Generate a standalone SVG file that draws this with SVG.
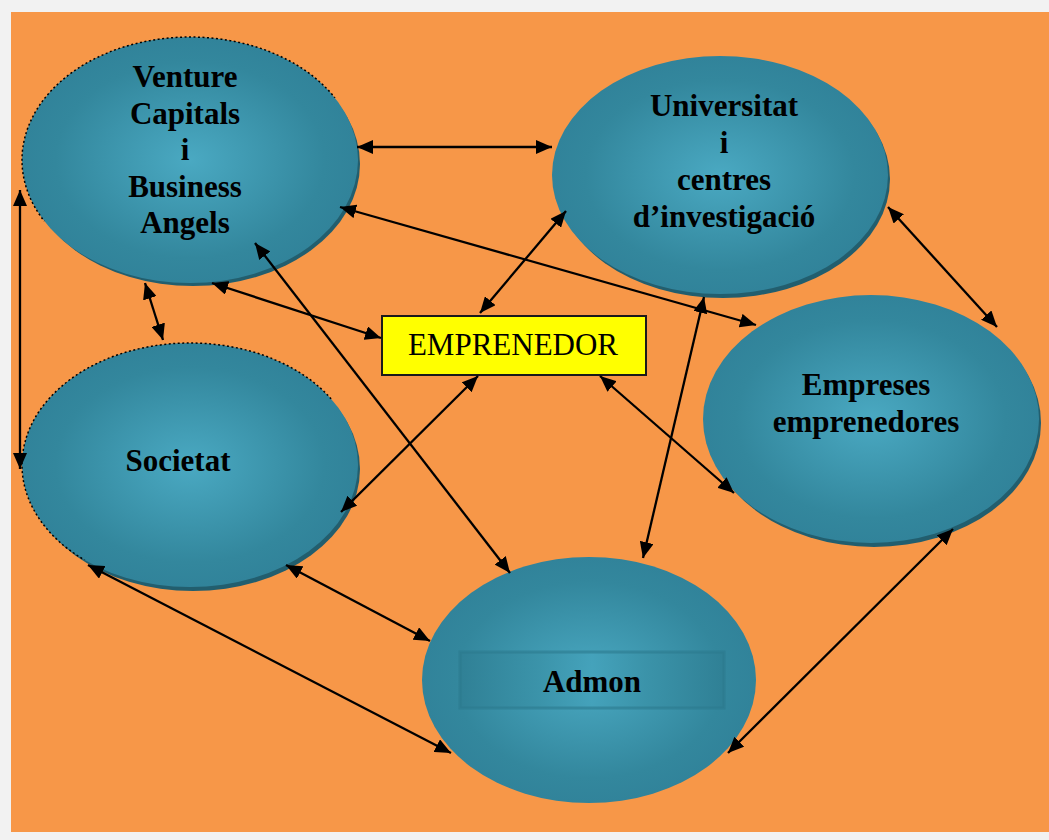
<svg xmlns="http://www.w3.org/2000/svg" width="1049" height="840" viewBox="0 0 1049 840">
  <defs>
    <radialGradient id="ball" cx="50%" cy="50%" r="50%">
      <stop offset="0" stop-color="#4aa9c2"/>
      <stop offset="0.8" stop-color="#33879d"/>
      <stop offset="1" stop-color="#31839a"/>
    </radialGradient>
    <linearGradient id="band" x1="0" y1="0" x2="1" y2="0">
      <stop offset="0" stop-color="#2f7f94"/>
      <stop offset="0.3" stop-color="#3a92a8"/>
      <stop offset="0.5" stop-color="#44a2bb"/>
      <stop offset="0.7" stop-color="#3a92a8"/>
      <stop offset="1" stop-color="#2f7f94"/>
    </linearGradient>
    <marker id="tip" viewBox="0 0 16 14" markerWidth="16" markerHeight="14" refX="16" refY="7" orient="auto-start-reverse" markerUnits="userSpaceOnUse">
      <path d="M0,0 L16,7 L0,14 z" fill="#000"/>
    </marker>
    <!-- upper-left halves where the outline of two balls shows -->
    <clipPath id="rimVenture">
      <polygon points="0,240 0,0 400,0 400,70"/>
    </clipPath>
    <clipPath id="rimSocietat">
      <polygon points="0,615 0,300 400,300 400,354"/>
    </clipPath>
  </defs>
  <style>
    .node { fill: url(#ball); }
    .shade { fill: #225e6e; }
    .rim { fill: none; stroke: #000; stroke-width: 1.5; stroke-dasharray: 2 2.5; }
    .lbl { font-family: "Liberation Serif", "Times New Roman", serif; font-weight: bold; font-size: 31px; fill: #000; text-anchor: middle; }
    .link { stroke: #000; stroke-width: 2.3; fill: none; marker-start: url(#tip); marker-end: url(#tip); }
  </style>

  <!-- page and canvas -->
  <rect x="0" y="0" width="1049" height="840" fill="#f2f2f2"/>
  <rect x="11" y="12" width="1038" height="820" fill="#f79748"/>

  <!-- nodes -->
  <g id="venture">
    <ellipse class="shade" cx="193" cy="164" rx="167" ry="122"/>
    <ellipse class="node" cx="190" cy="160" rx="168" ry="123"/>
    <ellipse class="rim" cx="190" cy="160" rx="168" ry="123" clip-path="url(#rimVenture)"/>
    <text class="lbl" x="185" y="87">Venture</text>
    <text class="lbl" x="185" y="124">Capitals</text>
    <text class="lbl" x="185" y="160">i</text>
    <text class="lbl" x="185" y="197">Business</text>
    <text class="lbl" x="185" y="233">Angels</text>
  </g>

  <g id="universitat">
    <ellipse class="shade" cx="723" cy="179" rx="167" ry="119"/>
    <ellipse class="node" cx="720" cy="175" rx="168" ry="119"/>
    <text class="lbl" x="724" y="116">Universitat</text>
    <text class="lbl" x="724" y="153">i</text>
    <text class="lbl" x="724" y="190">centres</text>
    <text class="lbl" x="724" y="227">d’investigació</text>
  </g>

  <g id="societat">
    <ellipse class="shade" cx="193" cy="469" rx="167" ry="122"/>
    <ellipse class="node" cx="190" cy="465" rx="168" ry="122"/>
    <ellipse class="rim" cx="190" cy="465" rx="168" ry="122" clip-path="url(#rimSocietat)"/>
    <text class="lbl" x="178" y="471">Societat</text>
  </g>

  <g id="empreses">
    <ellipse class="shade" cx="874" cy="423" rx="167" ry="124"/>
    <ellipse class="node" cx="871" cy="419" rx="168" ry="124"/>
    <text class="lbl" x="866" y="395">Empreses</text>
    <text class="lbl" x="866" y="432">emprenedores</text>
  </g>

  <g id="admon">
    <ellipse class="node" cx="589" cy="680" rx="167" ry="123"/>
    <rect x="460" y="652" width="264" height="56" fill="url(#band)" opacity="0.85"/>
    <rect x="460" y="652" width="264" height="56" fill="none" stroke="#2c7a8e" stroke-width="3" opacity="0.6"/>
    <text class="lbl" x="592" y="692">Admon</text>
  </g>

  <g id="emprenedor">
    <rect x="382" y="316" width="264" height="59" fill="#ffff00" stroke="#1a1a1a" stroke-width="2"/>
    <text x="513" y="355" font-family="'Liberation Serif', 'Times New Roman', serif" font-size="31" text-anchor="middle" fill="#000">EMPRENEDOR</text>
  </g>

  <!-- connectors -->
  <g id="connectors">
    <line class="link" x1="357" y1="147" x2="552" y2="147"/>
    <line class="link" x1="20" y1="190" x2="20" y2="469"/>
    <line class="link" x1="145" y1="283" x2="163" y2="340"/>
    <line class="link" x1="212" y1="283" x2="381" y2="338"/>
    <line class="link" x1="340" y1="207" x2="756" y2="325"/>
    <line class="link" x1="255" y1="243" x2="510" y2="573"/>
    <line class="link" x1="566" y1="211" x2="480" y2="313"/>
    <line class="link" x1="704" y1="297" x2="643" y2="558"/>
    <line class="link" x1="888" y1="207" x2="997" y2="327"/>
    <line class="link" x1="478" y1="376" x2="341" y2="512"/>
    <line class="link" x1="600" y1="376" x2="734" y2="493"/>
    <line class="link" x1="286" y1="565" x2="430" y2="641"/>
    <line class="link" x1="88" y1="565" x2="451" y2="753"/>
    <line class="link" x1="953" y1="529" x2="728" y2="753"/>
  </g>
</svg>
